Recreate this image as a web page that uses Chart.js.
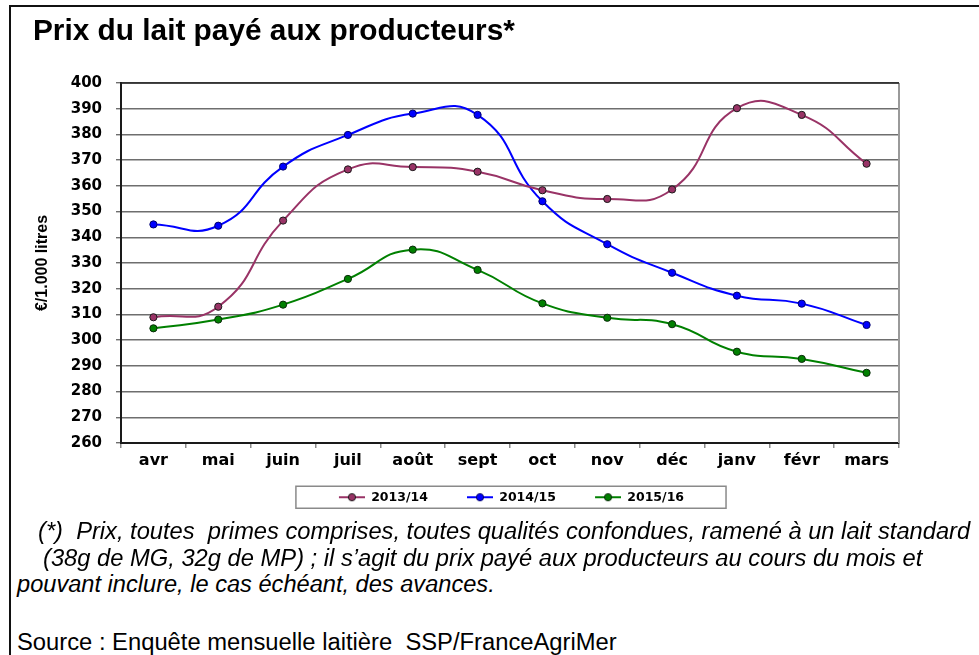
<!DOCTYPE html>
<html>
<head>
<meta charset="utf-8">
<script src="https://cdn.jsdelivr.net/npm/chart.js@4.4.1/dist/chart.umd.min.js"></script>
<style>
  html, body { margin: 0; padding: 0; background: #fff; }
  body { width: 979px; height: 655px; position: relative; overflow: hidden; font-family: "Liberation Sans", Arial, sans-serif; }
  #chart { position: absolute; left: 0; top: 0; }
  .txt { position: absolute; white-space: pre; line-height: 1; color: #000; }
  .frameTop { position: absolute; left: 9px; top: 5px; width: 970px; height: 2px; background: #111; }
  .frameLeft { position: absolute; left: 9px; top: 5px; width: 2px; height: 650px; background: #111; }
</style>
</head>
<body>
<div class="frameTop"></div>
<div class="frameLeft"></div>
<canvas id="chart" width="979" height="520"></canvas>
<div class="txt" id="title" data-x="33" data-base="40" data-w="482" data-size="29" style="font-weight:bold;">Prix du lait payé aux producteurs*</div>
<div class="txt" data-x="38" data-base="540" data-w="933" data-size="22" style="font-style:italic;">(*)  Prix, toutes  primes comprises, toutes qualités confondues, ramené à un lait standard</div>
<div class="txt" data-x="43" data-base="567" data-w="880" data-size="22" style="font-style:italic;">(38g de MG, 32g de MP) ; il s’agit du prix payé aux producteurs au cours du mois et</div>
<div class="txt" data-x="17" data-base="593" data-w="478" data-size="22" style="font-style:italic;">pouvant inclure, le cas échéant, des avances.</div>
<div class="txt" data-x="17" data-base="650" data-w="600" data-size="22">Source : Enquête mensuelle laitière  SSP/FranceAgriMer</div>
<script>
// ---- data ----
const months = ['avr', 'mai', 'juin', 'juil', 'août', 'sept', 'oct', 'nov', 'déc', 'janv', 'févr', 'mars'];
const seriesNames = ['2013/14', '2014/15', '2015/16'];
const s2013 = [308.9, 313.0, 346.5, 366.4, 367.3, 365.5, 358.3, 354.9, 358.6, 390.2, 387.6, 368.6];
const s2014 = [345.0, 344.5, 367.5, 379.8, 388.1, 387.6, 354.0, 337.3, 326.2, 317.3, 314.2, 305.9];
const s2015 = [304.6, 308.0, 313.8, 323.8, 335.2, 327.3, 314.3, 308.7, 306.2, 295.5, 292.7, 287.3];
const yMin = 260, yMax = 400, yStep = 10;
const yTitle = '€/1.000 litres';

const lineColors = ['#993366', '#0000FF', '#008000'];
const markerBorders = ['#1a1a1a', '#00006a', '#0a2a0a'];

// ---- text fitting ----
document.querySelectorAll('.txt').forEach(el => {
  let s = parseFloat(el.dataset.size);
  el.style.fontSize = s + 'px';
  const w = el.getBoundingClientRect().width;
  s = s * parseFloat(el.dataset.w) / w;
  el.style.fontSize = s + 'px';
  el.style.left = el.dataset.x + 'px';
  el.style.top = (parseFloat(el.dataset.base) - 0.8465 * s) + 'px';
});

// ---- legend sample images (blank lead so items are spaced like the original) ----
const LEAD = 16;
const TRAIL = '   ';
const legendFont = 'bold 12.5px "DejaVu Sans", Verdana, sans-serif';
const mctx = document.createElement('canvas').getContext('2d');
mctx.font = legendFont;
const trailW = mctx.measureText(TRAIL).width;

function sample(color, border) {
  const c = document.createElement('canvas');
  c.width = 26 + LEAD; c.height = 10;
  const g = c.getContext('2d');
  g.strokeStyle = color; g.lineWidth = 2;
  g.beginPath(); g.moveTo(LEAD, 5); g.lineTo(LEAD + 26, 5); g.stroke();
  g.fillStyle = color; g.strokeStyle = border; g.lineWidth = 1;
  g.beginPath(); g.arc(LEAD + 13, 5, 3.6, 0, Math.PI * 2); g.fill(); g.stroke();
  return c;
}
const samples = lineColors.map((c, i) => sample(c, markerBorders[i]));

const datasets = [s2013, s2014, s2015].map((vals, i) => ({
  label: seriesNames[i],
  data: vals,
  borderColor: lineColors[i],
  backgroundColor: lineColors[i],
  borderWidth: 2,
  tension: 0.5,
  pointRadius: 3.6,
  pointBorderWidth: 1,
  pointBorderColor: markerBorders[i],
  pointBackgroundColor: lineColors[i],
  fill: false
}));

const framePlugin = {
  id: 'frame',
  beforeDatasetsDraw(chart) {
    const { ctx, chartArea: a } = chart;
    ctx.save();
    ctx.strokeStyle = '#9a9a9a';
    ctx.lineWidth = 2;
    ctx.beginPath(); ctx.moveTo(a.right, a.top); ctx.lineTo(a.right, a.bottom); ctx.stroke();
    ctx.strokeStyle = '#222';
    ctx.lineWidth = 1.5;
    ctx.beginPath(); ctx.moveTo(a.left, a.top); ctx.lineTo(a.right, a.top); ctx.stroke();
    ctx.restore();
  },
  afterDraw(chart) {
    const hb = chart.legend && chart.legend.legendHitBoxes;
    if (!hb || !hb.length) return;
    const { ctx } = chart;
    const first = hb[0], last = hb[hb.length - 1];
    const x0 = first.left + LEAD - 43, x1 = last.left + last.width - trailW + 42;
    const yc = first.top + first.height / 2;
    ctx.save();
    ctx.strokeStyle = '#8a8a8a';
    ctx.lineWidth = 1.5;
    ctx.strokeRect(x0, yc - 11, x1 - x0, 22);
    ctx.restore();
  }
};

Chart.defaults.font.family = '"DejaVu Sans", Verdana, sans-serif';
Chart.defaults.color = '#000';

new Chart(document.getElementById('chart'), {
  type: 'line',
  data: { labels: months, datasets },
  options: {
    responsive: false,
    animation: false,
    devicePixelRatio: 1,
    layout: { padding: { top: 83, left: 10, right: 80, bottom: 6.5 } },
    plugins: {
      title: { display: false },
      tooltip: { enabled: false },
      legend: {
        display: true,
        position: 'bottom',
        fullSize: false,
        labels: {
          usePointStyle: true,
          pointStyleWidth: 26 + LEAD,
          boxHeight: 10,
          padding: 10,
          font: { size: 12.5, weight: 'bold' },
          color: '#000',
          generateLabels(chart) {
            const items = Chart.defaults.plugins.legend.labels.generateLabels(chart);
            items.forEach((it, i) => { it.pointStyle = samples[i]; it.text = it.text + TRAIL; });
            return items;
          }
        }
      }
    },
    scales: {
      x: {
        type: 'category',
        offset: true,
        afterFit(s) { s.height = 38; },
        grid: { display: true, drawOnChartArea: false, drawTicks: true, tickLength: 5, offset: true, color: '#8a8a8a', lineWidth: 1.5 },
        border: { display: true, color: '#1a1a1a', width: 2 },
        ticks: { font: { size: 16, weight: 'bold' }, color: '#000', padding: 3, maxRotation: 0, autoSkip: false }
      },
      y: {
        min: yMin, max: yMax,
        afterFit(s) { s.width = 111; },
        ticks: { stepSize: yStep, font: { size: 15, weight: 'bold' }, color: '#000', padding: 14 },
        grid: { color: '#6e6e6e', lineWidth: 1.4, tickLength: 5, drawTicks: true },
        border: { display: true, color: '#1a1a1a', width: 2 },
        title: { display: true, text: yTitle, font: { family: '"Liberation Sans", Arial, sans-serif', size: 16, weight: 'bold' }, color: '#000', padding: { top: 23, bottom: 0 } }
      }
    }
  },
  plugins: [framePlugin]
});
</script>
</body>
</html>
